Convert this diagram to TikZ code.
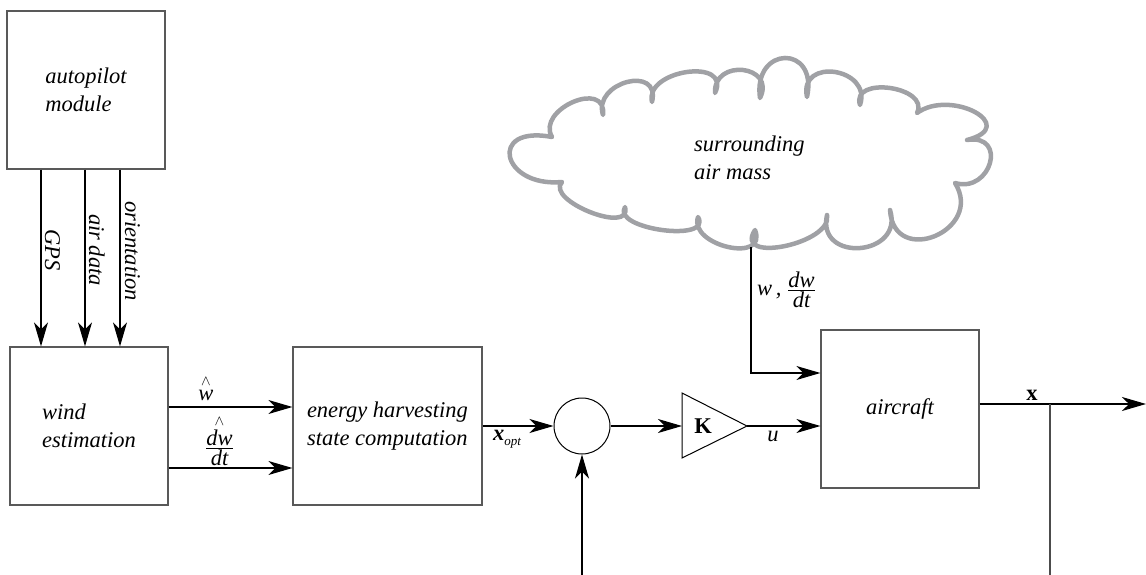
\documentclass[tikz,border=0pt]{standalone}
\usepackage{amsmath}
\usepackage{fontspec}
\setmainfont{Liberation Serif}
\usetikzlibrary{arrows.meta}
\definecolor{cloudgray}{HTML}{A0A1A5}
\newcommand\bigfont{\fontsize{22.5}{28}\selectfont}
\newcommand\smallfrac[2]{\frac{\hbox{\textit{#1}}}{\hbox{\textit{#2}}}}
\begin{document}
\begin{tikzpicture}[x=1pt,y=-1pt,
  blk/.style={draw=black!65, line width=1.2pt, minimum width=158pt, minimum height=158pt,
    inner sep=0pt, font=\bigfont\itshape, align=left},
  lbl/.style={inner sep=0pt, font=\bigfont\itshape},
  arr/.style={line width=1.2pt, -{Stealth[length=24pt,width=14pt,inset=7pt]}},
  ln/.style={line width=1.2pt},
  thin/.style={draw=black, line width=1pt}]
\useasboundingbox (0,0) rectangle (1146,575);

% blocks
\node[blk] (ap) at (86,90) {autopilot\\module};
\node[blk] (we) at (89,426) {wind\\estimation};
\node[blk, minimum width=189pt] (eh) at (387.5,426) {energy harvesting\\state computation};
\node[blk] (ac) at (900,409) {aircraft};
\node[thin, circle, minimum size=56pt, inner sep=0pt] (sum) at (582,426) {};

% gain triangle
\draw[thin] (682,393) -- (747,426) -- (682,458) -- cycle;
\coordinate (Kin) at (682,426);
\coordinate (Kout) at (747,426);
\node[inner sep=0pt, font=\bigfont\bfseries] (K) at (703,426) {K};

% cloud
\draw[cloudgray, line width=4.5pt, line join=round, line cap=round]
  (562,182) .. controls (501.3,187.65) and (487.3,124.65) .. (552,137)
  .. controls (535.8,109.4) and (607.2,78.6) .. (603,115)
  .. controls (592.5,82.3) and (661.1,64.1) .. (652,102)
  .. controls (644.0,69.8) and (732.2,57.2) .. (715,93)
  .. controls (713.3,58.0) and (776.3,65.0) .. (760,98)
  .. controls (752.6,45.5) and (818.4,44.1) .. (807,97)
  .. controls (798.3,56.7) and (872.5,67.9) .. (860,105)
  .. controls (850.5,75.4) and (930.3,86.6) .. (917,113)
  .. controls (950.9,88.3) and (1020.9,126.1) .. (967,140)
  .. controls (1008.0,133.4) and (991.2,193.6) .. (955,183)
  .. controls (984.6,230.3) and (893.6,268.1) .. (890,210)
  .. controls (904.5,256.4) and (816.3,263.4) .. (827,215)
  .. controls (833.3,243.4) and (732.5,264.4) .. (755,230)
  .. controls (768.3,263.9) and (688.5,245.7) .. (698,217)
  .. controls (713.2,243.0) and (611.0,229.0) .. (625,207)
  .. controls (632.9,235.4) and (544.7,200.4) .. (562,182) -- cycle;
\node[lbl, anchor=west, align=left] (sam) at (694,158) {surrounding\\air mass};

% autopilot outputs
\draw[arr] ([xshift=-45pt]ap.south) -- ([xshift=-48pt]we.north);
\draw[arr] ([xshift=-1pt]ap.south) -- ([xshift=-4pt]we.north);
\draw[arr] ([xshift=34pt]ap.south) -- ([xshift=31pt]we.north);
\node[lbl, rotate=-90, anchor=base] (gps) at (45,250) {GPS};
\node[lbl, rotate=-90, anchor=base] (air) at (89,250) {air data};
\node[lbl, rotate=-90, anchor=base] (ori) at (125,251) {orientation};

% wind estimation outputs
\draw[arr] ([yshift=19pt]we.east) -- ([yshift=19pt]eh.west);
\draw[arr] ([yshift=-42pt]we.east) -- ([yshift=-42pt]eh.west);
\node[lbl, anchor=base] (wh) at (206,400) {$\overset{\scriptstyle\wedge}{\hbox{\textit{w}}}$};
\node[lbl, anchor=south] (dwh) at (219.5,466) {$\overset{\scriptstyle\wedge}{\smallfrac{dw}{dt}}$};

% main loop
\draw[arr] (eh.east) -- (sum.west);
\node[lbl, anchor=base west] (xo) at (493,440) {\textbf{x}\raisebox{-5pt}{\fontsize{13}{13}\selectfont\textit{opt}}};
\draw[arr] (sum.east) -- (Kin);
\draw[arr] (Kout) -- (Kout -| ac.west);
\node[lbl, anchor=base] (u) at (773,441) {u};

% air mass input
\coordinate (cl) at (751,247);
\draw[arr] (cl) |- ([yshift=36pt]ac.west);
\node[lbl, anchor=west] (wl) at (757,290) {w\,,\ $\smallfrac{dw}{dt}$};

% output and feedback
\coordinate (xend) at (1146,404);
\draw[arr] ([yshift=5pt]ac.east) -- (xend);
\node[lbl, anchor=base, font=\bigfont\bfseries] (xl) at (1032,400) {x};
\coordinate (br) at (1050,404);
\coordinate (brb) at (1050,575);
\draw[ln, draw=black!70] (br) -- (brb);
\coordinate (fb) at (582,575);
\draw[arr] (fb) -- (sum.south);
\end{tikzpicture}
\end{document}
